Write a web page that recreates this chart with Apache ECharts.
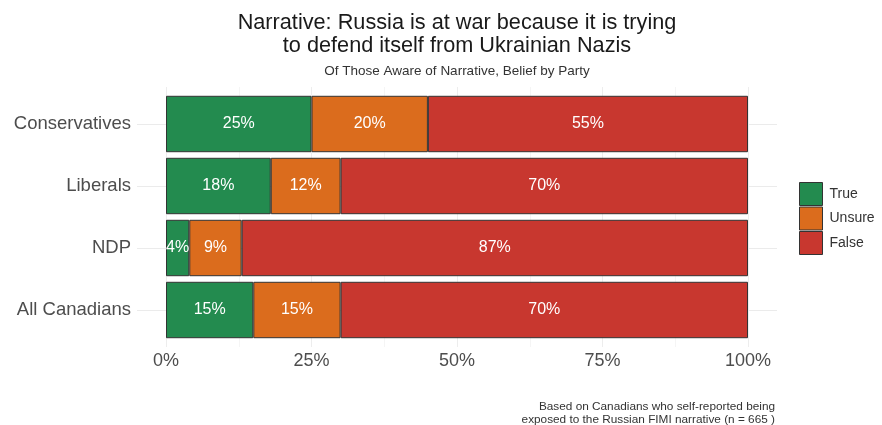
<!DOCTYPE html>
<html>
<head>
<meta charset="utf-8">
<script src="https://cdn.jsdelivr.net/npm/echarts@6/dist/echarts.min.js"></script>
<style>html,body{margin:0;padding:0;background:#fff}#c{width:882px;height:425px}</style>
</head>
<body>
<div id="c"></div>
<script>
const categories = ['Conservatives', 'Liberals', 'NDP', 'All Canadians'];
const trueVals = [25, 18, 4, 15];
const unsureVals = [20, 12, 9, 15];
const falseVals = [55, 70, 87, 70];
const seriesNames = ['True', 'Unsure', 'False'];
const xTicks = [0, 25, 50, 75, 100];
const colors = ['#238b4f', '#db6c1d', '#c8372f'];

const chart = echarts.init(document.getElementById('c'), null, {renderer: 'canvas'});
const font = 'Liberation Sans, Arial, Helvetica, sans-serif';
const mk = (name, data, color) => ({
  name, type: 'bar', stack: 'total', data,
  xAxisIndex: 0, yAxisIndex: 0,
  barCategoryGap: '9%',
  itemStyle: {color, borderColor: '#333', borderWidth: 1},
  label: {show: true, position: 'inside', color: '#fff', fontSize: 16, fontFamily: font, formatter: '{c}%'},
  emphasis: {disabled: true}
});
chart.setOption({
  animation: false,
  textStyle: {fontFamily: font},
  title: [
    {text: 'Narrative: Russia is at war because it is trying\nto defend itself from Ukrainian Nazis',
     subtext: 'Of Those Aware of Narrative, Belief by Party',
     left: 457, textAlign: 'center', top: 11, itemGap: 6, padding: 0,
     textStyle: {fontSize: 21.7, fontWeight: 'normal', color: '#1a1a1a', lineHeight: 23.5, fontFamily: font},
     subtextStyle: {fontSize: 13.5, color: '#333', fontFamily: font}},
    {text: 'Based on Canadians who self-reported being\nexposed to the Russian FIMI narrative (n = 665 )',
     left: 775, textAlign: 'right', top: 400, padding: 0,
     textStyle: {fontSize: 11.8, fontWeight: 'normal', color: '#333', lineHeight: 13, fontFamily: font}}
  ],
  legend: {
    data: seriesNames, orient: 'vertical', left: 799, top: 182, padding: 0,
    itemWidth: 23, itemHeight: 23, itemGap: 0.5, icon: 'rect',
    itemStyle: {borderColor: '#333', borderWidth: 1},
    textStyle: {fontSize: 14, color: '#333', fontFamily: font, padding: [0, 0, 0, 2]}
  },
  grid: [
    {left: 166, right: 134, top: 93, bottom: 84},
    {left: 166, right: 134, top: 87, bottom: 78},
    {left: 137, right: 105, top: 124, bottom: 115}
  ],
  xAxis: [
    {gridIndex: 0, type: 'value', min: xTicks[0], max: xTicks[xTicks.length - 1], interval: 25,
     axisLabel: {formatter: '{value}%', color: '#4d4d4d', fontSize: 18, margin: 11, fontFamily: font},
     axisLine: {show: false}, axisTick: {show: false}, splitLine: {show: false}},
    {gridIndex: 1, type: 'value', min: 0, max: 100, interval: 25,
     axisLabel: {show: false}, axisLine: {show: false}, axisTick: {show: false},
     splitLine: {show: true, lineStyle: {color: '#ededed', width: 1}},
     minorTick: {show: false, splitNumber: 2},
     minorSplitLine: {show: true, lineStyle: {color: '#f5f5f5', width: 1}}},
    {gridIndex: 2, type: 'value', min: 0, max: 1, show: false}
  ],
  yAxis: [
    {gridIndex: 0, type: 'category', data: categories, inverse: true,
     axisLabel: {color: '#4d4d4d', fontSize: 18.5, margin: 35, fontFamily: font},
     axisLine: {show: false}, axisTick: {show: false}, splitLine: {show: false}},
    {gridIndex: 1, type: 'value', min: 0, max: 1, show: false},
    {gridIndex: 2, type: 'value', min: 0, max: 3, interval: 1,
     axisLabel: {show: false}, axisLine: {show: false}, axisTick: {show: false},
     splitLine: {show: true, lineStyle: {color: '#ebebeb', width: 1}}}
  ],
  series: [
    mk(seriesNames[0], trueVals, colors[0]),
    mk(seriesNames[1], unsureVals, colors[1]),
    mk(seriesNames[2], falseVals, colors[2])
  ]
});
</script>
</body>
</html>
